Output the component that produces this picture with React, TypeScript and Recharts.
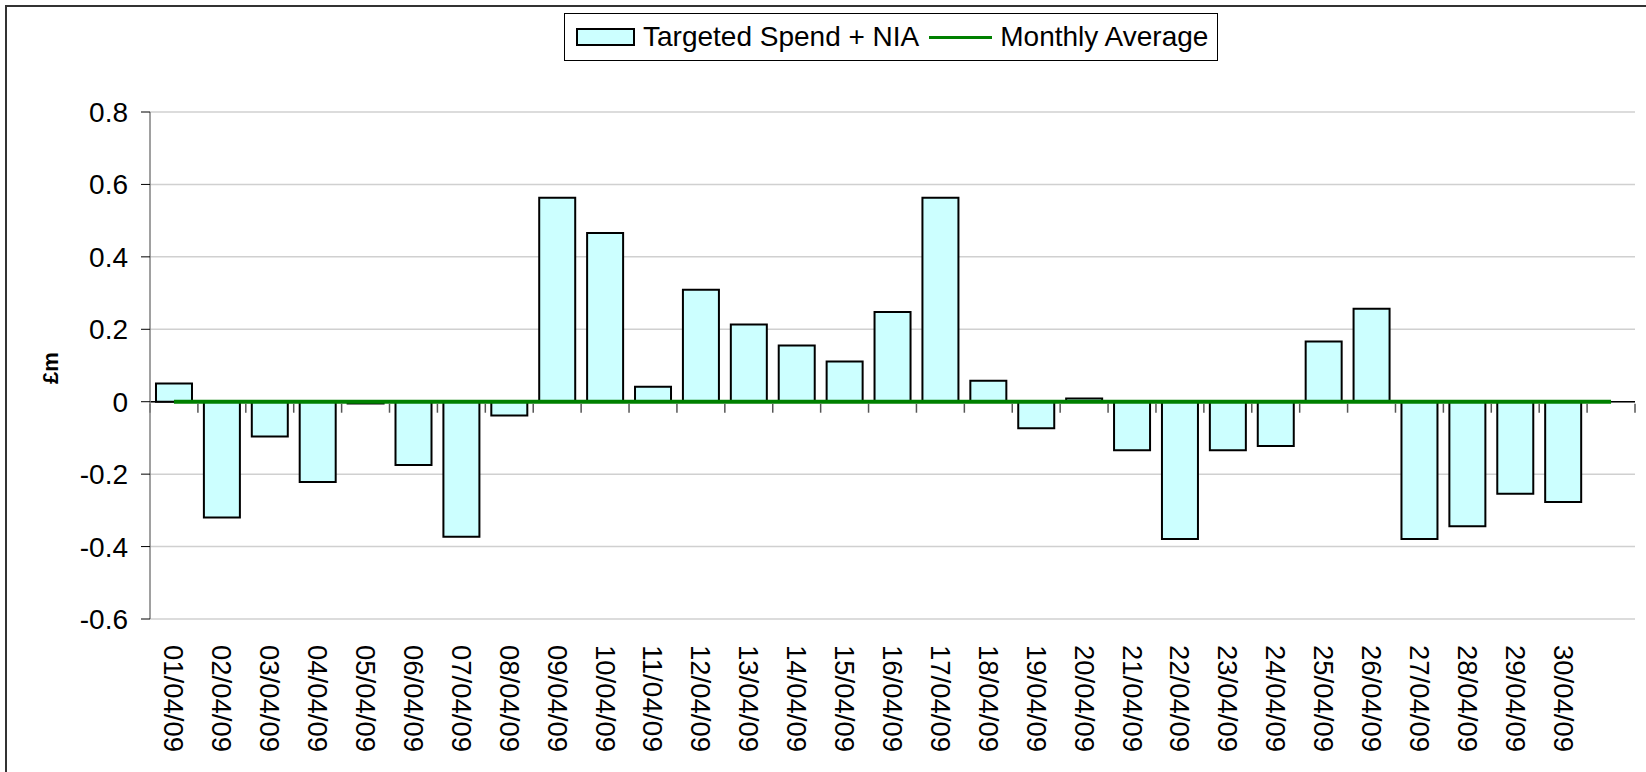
import {
  Bar,
  CartesianGrid,
  ComposedChart,
  Legend,
  Line,
  ReferenceLine,
  XAxis,
  YAxis,
} from "recharts";

// daily figures, April 2009 (last slot is an empty category like the original sheet)
const dates = [
  "01/04/09", "02/04/09", "03/04/09", "04/04/09", "05/04/09", "06/04/09",
  "07/04/09", "08/04/09", "09/04/09", "10/04/09", "11/04/09", "12/04/09",
  "13/04/09", "14/04/09", "15/04/09", "16/04/09", "17/04/09", "18/04/09",
  "19/04/09", "20/04/09", "21/04/09", "22/04/09", "23/04/09", "24/04/09",
  "25/04/09", "26/04/09", "27/04/09", "28/04/09", "29/04/09", "30/04/09", "",
];
const targetedSpend = [
  0.05, -0.32, -0.096, -0.222, -0.005, -0.175, -0.373, -0.038, 0.563, 0.466,
  0.041, 0.309, 0.213, 0.155, 0.111, 0.248, 0.563, 0.058, -0.073, 0.009,
  -0.134, -0.379, -0.134, -0.122, 0.166, 0.257, -0.379, -0.344, -0.254, -0.277,
  null,
];
const monthlyAverage = [
  0, 0, 0, 0, 0, 0, 0, 0, 0, 0, 0, 0, 0, 0, 0, 0,
  0, 0, 0, 0, 0, 0, 0, 0, 0, 0, 0, 0, 0, 0, 0,
];
const yTicks = [-0.6, -0.4, -0.2, 0, 0.2, 0.4, 0.6, 0.8];

const data = dates.map((date, i) => ({
  date,
  spend: targetedSpend[i],
  avg: monthlyAverage[i],
}));

const FONT = "'Liberation Sans', Arial, sans-serif";
const BAR_FILL = "#CCFFFF";
const GREEN = "#008000";

function DateTick({ x, y, payload }: any) {
  if (!payload.value) return null;
  const ty = y + 24;
  return (
    <text
      x={x}
      y={ty}
      transform={`rotate(90, ${x}, ${ty})`}
      textAnchor="start"
      dominantBaseline="central"
      fontSize={28}
      fontFamily={FONT}
      fill="#000"
      textLength={107}
      lengthAdjust="spacingAndGlyphs"
    >
      {payload.value}
    </text>
  );
}

// little category-boundary marks hanging below the zero line
function ZeroMarks(props: any) {
  const xa = Number(props.x1);
  const xb = Number(props.x2);
  const y0 = Number(props.y1);
  const step = (xb - xa) / dates.length;
  const marks = [];
  for (let i = 0; i <= dates.length; i++) {
    const x = xa + step * i;
    marks.push(
      <line key={i} x1={x} x2={x} y1={y0 + 2} y2={y0 + 11} stroke="#555" strokeWidth={1.5} />
    );
  }
  return <g>{marks}</g>;
}

function LegendBox() {
  return (
    <div
      style={{
        boxSizing: "border-box",
        width: 654,
        height: 48,
        border: "1px solid #000",
        background: "#fff",
        display: "flex",
        alignItems: "center",
        fontFamily: FONT,
        fontSize: 28,
        color: "#000",
        whiteSpace: "nowrap",
      }}
    >
      <span
        style={{
          boxSizing: "border-box",
          marginLeft: 11,
          width: 59,
          height: 18,
          background: BAR_FILL,
          border: "2px solid #000",
        }}
      />
      <span style={{ marginLeft: 8 }}>Targeted Spend + NIA</span>
      <span style={{ marginLeft: 10, width: 63, height: 3, background: GREEN }} />
      <span style={{ marginLeft: 8 }}>Monthly Average</span>
    </div>
  );
}

export default function App() {
  return (
    <div
      style={{
        position: "absolute",
        left: 0,
        top: 0,
        width: 1646,
        height: 772,
        overflow: "hidden",
        background: "#fff",
      }}
    >
      <div
        style={{
          position: "absolute",
          left: 5,
          top: 5,
          width: 1700,
          height: 800,
          border: "2px solid #333",
        }}
      />
      <div style={{ position: "absolute", left: 0, top: 0 }}>
        <ComposedChart
          width={1646}
          height={772}
          data={data}
          margin={{ top: 112, right: 11, bottom: 0, left: 0 }}
          barCategoryGap="12.5%"
        >
          <CartesianGrid horizontal vertical={false} stroke="#d0d0d0" strokeWidth={1.5} />
          <XAxis
            dataKey="date"
            interval={0}
            height={153}
            axisLine={false}
            tickLine={false}
            tickSize={0}
            tick={<DateTick />}
          />
          <YAxis
            type="number"
            domain={[-0.6, 0.8]}
            ticks={yTicks}
            width={150}
            axisLine={{ stroke: "#808080", strokeWidth: 1.5 }}
            tickLine={{ stroke: "#000" }}
            tickSize={9}
            tickMargin={13}
            tick={{ fontSize: 28, fontFamily: FONT, fill: "#000" }}
            label={({ viewBox }: any) => (
              <text
                x={50}
                y={viewBox.y + 256}
                transform={`rotate(-90, 50, ${viewBox.y + 256})`}
                textAnchor="middle"
                dominantBaseline="central"
                fontSize={22}
                fontWeight="bold"
                fontFamily={FONT}
                fill="#000"
              >
                £m
              </text>
            )}
          />
          <Legend
            verticalAlign="middle"
            align="center"
            wrapperStyle={{ top: 13, left: 564, width: 654, height: 48 }}
            content={() => <LegendBox />}
          />
          <ReferenceLine y={0} stroke="#000" strokeWidth={1.5} />
          <Bar
            dataKey="spend"
            name="Targeted Spend + NIA"
            fill={BAR_FILL}
            stroke="#000"
            strokeWidth={2}
            isAnimationActive={false}
          />
          <Line
            dataKey="avg"
            name="Monthly Average"
            stroke={GREEN}
            strokeWidth={4}
            dot={false}
            activeDot={false}
            isAnimationActive={false}
          />
          <ReferenceLine y={0} shape={(p: any) => <ZeroMarks {...p} />} />
        </ComposedChart>
      </div>
    </div>
  );
}
